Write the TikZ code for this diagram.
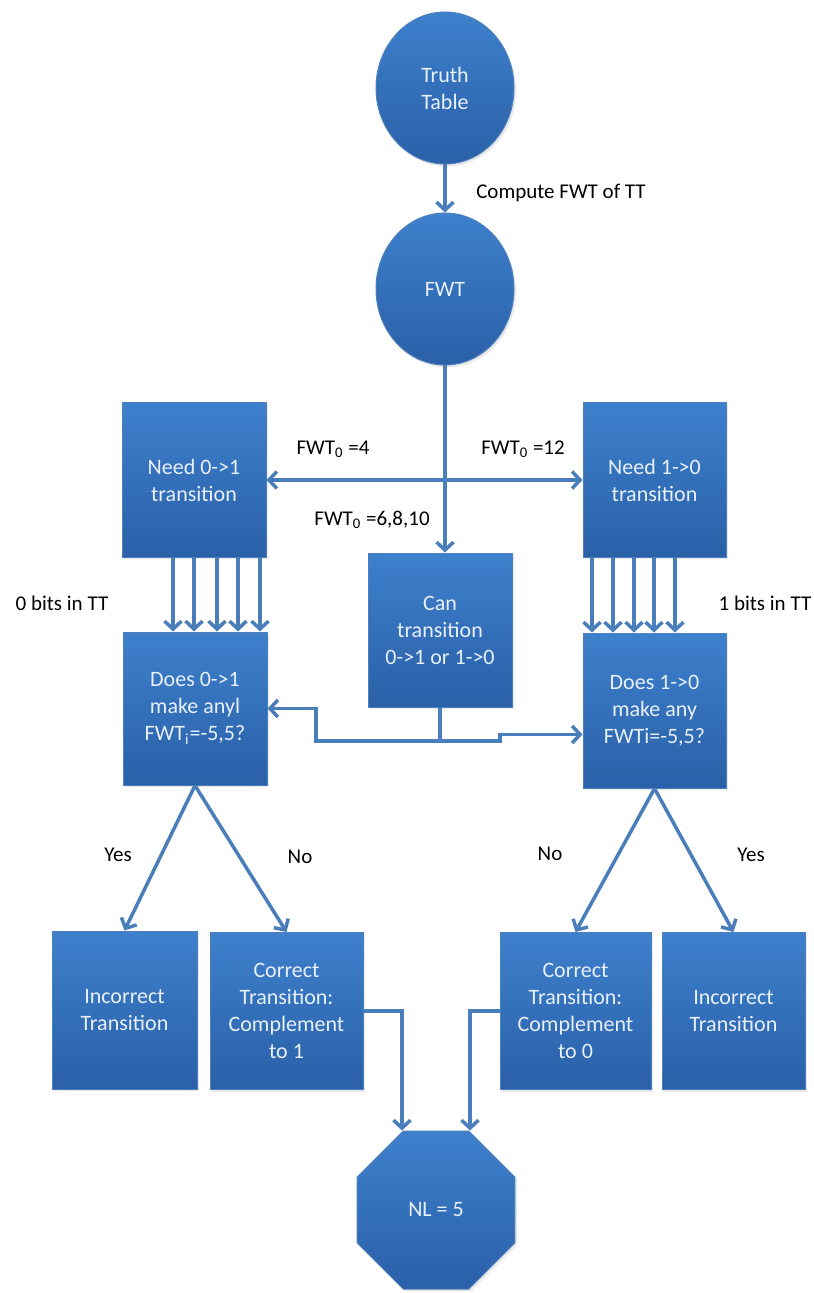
\documentclass[tikz,border=0pt]{standalone}
\usepackage{fontspec}
\setmainfont{Carlito}
\usetikzlibrary{arrows.meta,shapes.geometric,shadows}
\definecolor{conn}{RGB}{74,126,187}
\definecolor{boxtop}{RGB}{62,128,204}
\definecolor{boxbot}{RGB}{42,96,168}
\definecolor{boxline}{RGB}{78,128,192}
\definecolor{boxtext}{RGB}{232,240,250}
\begin{document}
\begin{tikzpicture}[x=0.5pt,y=-0.5pt,
  blk/.style={draw=boxline, line width=0.5pt, top color=boxtop, bottom color=boxbot,
    text=boxtext, align=center, inner sep=2pt, font=\fontsize{11}{13.5}\selectfont,
    drop shadow={opacity=0.18,shadow xshift=1pt,shadow yshift=-1.2pt}},
  circ/.style={blk, ellipse, minimum width=69pt, minimum height=76pt, inner sep=0pt},
  octa/.style={blk, regular polygon, regular polygon sides=8, minimum size=85.5pt, inner sep=0pt},
  lbl/.style={font=\fontsize{10.5}{12.5}\selectfont, text=black, inner sep=0pt},
  conn/.style={draw=conn, line width=1.75pt},
  arr/.style={conn, -{Straight Barb[length=4pt,width=8.5pt]}},
  darr/.style={conn, {Straight Barb[length=4pt,width=8.5pt]}-{Straight Barb[length=4pt,width=8.5pt]}}
]
\useasboundingbox (0,0) rectangle (813,1293);

% circles
\node[circ] (tt) at (445,88) {Truth\\Table};
\node[circ] (fwt) at (445,289) {FWT};

% top row boxes
\node[blk, minimum width=72pt, minimum height=77pt] (need0) at (194,480) {Need 0->1\\transition};
\node[blk, minimum width=71.5pt, minimum height=77pt] (need1) at (654.5,480) {Need 1->0\\transition};
\node[blk, minimum width=72pt, minimum height=77pt] (can) at (440,630) {Can\\transition\\0->1 or 1->0};

% decision boxes
\node[blk, minimum width=72pt, minimum height=76.5pt] (does0) at (195,708.5) {Does 0->1\\make anyl\\FWT\textsubscript{i}=-5,5?};
\node[blk, minimum width=71.5pt, minimum height=77.5pt] (does1) at (654.5,710.5) {Does 1->0\\make any\\FWTi=-5,5?};

% bottom boxes
\node[blk, minimum width=72.5pt, minimum height=79pt] (inc0) at (124.5,1010) {Incorrect\\Transition};
\node[blk, minimum width=76.5pt, minimum height=78.5pt] (cor0) at (286.5,1011) {Correct\\Transition:\\Complement\\to 1};
\node[blk, minimum width=75.5pt, minimum height=78.5pt] (cor1) at (575.5,1011) {Correct\\Transition:\\Complement\\to 0};
\node[blk, minimum width=71.5pt, minimum height=78.5pt] (inc1) at (733.5,1011) {Incorrect\\Transition};

% octagon
\node[octa] (nl) at (436,1210) {NL = 5};

% labels
\node[lbl] (cmp) at (561,193) {Compute FWT of TT};
\node[lbl] (l4) at (333,449) {FWT\textsubscript{0} =4};
\node[lbl] (l12) at (523,449) {FWT\textsubscript{0} =12};
\node[lbl] (l6) at (372,520) {FWT\textsubscript{0} =6,8,10};
\node[lbl] (bits0) at (62,603) {0 bits in TT};
\node[lbl] (bits1) at (765,603) {1 bits in TT};
\node[lbl] (yes0) at (118,855) {Yes};
\node[lbl] (no0) at (300,857) {No};
\node[lbl] (no1) at (550,854) {No};
\node[lbl] (yes1) at (751,855) {Yes};

% connectors
\draw[arr] (tt.south) -- (fwt.north);
\draw[arr] (fwt.south) -- (fwt.south |- can.north);
\draw[darr] (need0.east) -- (need1.west);

\foreach \d in {-10.5,0,11.5,22,33}
  \draw[arr] ([xshift=\d pt]need0.south) -- ([xshift=\d pt]need0.south |- does0.north);
\foreach \d in {-31.25,-20.75,-10.25,-0.25,10.25}
  \draw[arr] ([xshift=\d pt]need1.south) -- ([xshift=\d pt]need1.south |- does1.north);

\coordinate (j) at (440,741);
\coordinate (jl) at (316,741);
\coordinate (jr) at (500,741);
\draw[conn] (can.south) -- (j);
\draw[arr] (j) -- (jl) |- (does0.east);
\draw[arr] (j) -- (jr) -- ([yshift=-12pt]does1.west -| jr) -- ([yshift=-12pt]does1.west);

\draw[arr] (does0.south) -- (inc0.north);
\draw[arr] (does0.south) -- (cor0.north);
\draw[arr] (does1.south) -- (cor1.north);
\draw[arr] (does1.south) -- (inc1.north);

\draw[arr] (cor0.east) -| ([xshift=-17pt]nl.north);
\draw[arr] (cor1.west) -| ([xshift=17pt]nl.north);
\end{tikzpicture}
\end{document}
